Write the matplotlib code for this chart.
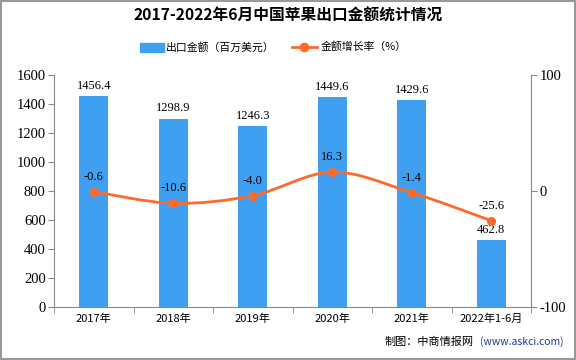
import matplotlib
matplotlib.use("Agg")
import matplotlib.pyplot as plt
from matplotlib.path import Path
from matplotlib.patches import PathPatch, Rectangle
from matplotlib.lines import Line2D
import numpy as np

plt.rcParams['font.family'] = ['Noto Sans CJK SC', 'DejaVu Sans']

categories = ['2017年', '2018年', '2019年', '2020年', '2021年', '2022年1-6月']
export_value = [1456.4, 1298.9, 1246.3, 1449.6, 1429.6, 462.8]
growth_rate = [-0.6, -10.6, -4.0, 16.3, -1.4, -25.6]
left_ticks = [0, 200, 400, 600, 800, 1000, 1200, 1400, 1600]
right_ticks = [-100, 0, 100]

bar_color = '#3FA0F2'
line_color = '#FF6A2A'
axis_color = '#888888'
num_font = 'Liberation Serif'

fig = plt.figure(figsize=(5.76, 3.6), dpi=100)

ax = fig.add_axes([54/576, 1-307/360, (531-54)/576, (307-75)/360])
ax2 = ax.twinx()

x = np.arange(len(categories))
ax.bar(x, export_value, width=0.37, color=bar_color, zorder=2)
ax.set_xlim(-0.5, len(categories)-0.5)
ax.set_ylim(0, 1600)
ax.set_yticks(left_ticks)
ax.set_yticklabels([str(t) for t in left_ticks], fontfamily=num_font, fontsize=10.5)
ax.set_xticks(x)
ax.set_xticklabels(categories, fontsize=8)
ax.set_xticks(np.arange(len(categories)+1)-0.5, minor=True)
ax.tick_params(axis='x', which='major', length=0, pad=5)
ax.tick_params(axis='x', which='minor', length=4, color=axis_color, direction='out')
ax.tick_params(axis='y', length=4, color=axis_color, pad=2)
for s in ['top', 'right']:
    ax.spines[s].set_visible(False)
for s in ['left', 'bottom']:
    ax.spines[s].set_color(axis_color)

for xi, v in zip(x, export_value):
    ax.annotate(f'{v}', (xi, v), xytext=(0, 3), textcoords='offset points',
                ha='center', va='bottom', fontsize=9, fontfamily=num_font)

ax2.set_ylim(-100, 100)
ax2.set_yticks(right_ticks)
ax2.set_yticklabels([str(t) for t in right_ticks], fontfamily=num_font, fontsize=10.5)
ax2.tick_params(axis='y', length=4, color=axis_color, pad=2)
for s in ['top', 'left', 'bottom']:
    ax2.spines[s].set_visible(False)
ax2.spines['right'].set_color(axis_color)

# smooth curve through points using Catmull-Rom -> cubic Bezier
pts = np.column_stack([x, growth_rate]).astype(float)
verts = [tuple(pts[0])]
codes = [Path.MOVETO]
t = 0.5
for i in range(len(pts)-1):
    p0 = pts[i-1] if i > 0 else pts[i]
    p1 = pts[i]
    p2 = pts[i+1]
    p3 = pts[i+2] if i+2 < len(pts) else pts[i+1]
    c1 = p1 + (p2 - p0) * t / 3
    c2 = p2 - (p3 - p1) * t / 3
    verts += [tuple(c1), tuple(c2), tuple(p2)]
    codes += [Path.CURVE4]*3
ax2.add_patch(PathPatch(Path(verts, codes), fill=False, edgecolor=line_color, lw=2, zorder=3))
ax2.plot(x, growth_rate, 'o', color=line_color, ms=5.5, zorder=4)
for xi, v in zip(x, growth_rate):
    ax2.annotate(f'{v}', (xi, v), xytext=(0, 6.5), textcoords='offset points',
                 ha='center', va='bottom', fontsize=9, fontfamily=num_font)

# title
fig.text(0.5, 1-16/360, '2017-2022年6月中国苹果出口金额统计情况', ha='center', va='center',
         fontsize=11.3, fontweight='bold')

# legend
fig.patches.append(Rectangle((140/576, 1-52/360), 24/576, 9/360, transform=fig.transFigure,
                             color=bar_color, figure=fig))
fig.text(166/576, 1-47/360, '出口金额（百万美元）', va='center', fontsize=7.8)
fig.lines.append(Line2D([292/576, 317/576], [1-47/360, 1-47/360], transform=fig.transFigure,
                        color=line_color, lw=2, figure=fig))
fig.lines.append(Line2D([304/576], [1-47/360], transform=fig.transFigure,
                        color=line_color, marker='o', ms=6, figure=fig))
fig.text(321/576, 1-47/360, '金额增长率（%）', va='center', fontsize=7.8)

# footer
fig.text(385/576, 1-342/360, '制图：中商情报网', va='center', fontsize=8)
fig.text(480/576, 1-342/360, '(www.askci.com)', va='center', fontsize=7.5, color='#1a3d9a')

# border
fig.patches.append(Rectangle((0.001, 0.002), 0.997, 0.996, transform=fig.transFigure,
                             fill=False, edgecolor='#999999', lw=1.5, figure=fig))

fig.savefig('out.png', dpi=100)
